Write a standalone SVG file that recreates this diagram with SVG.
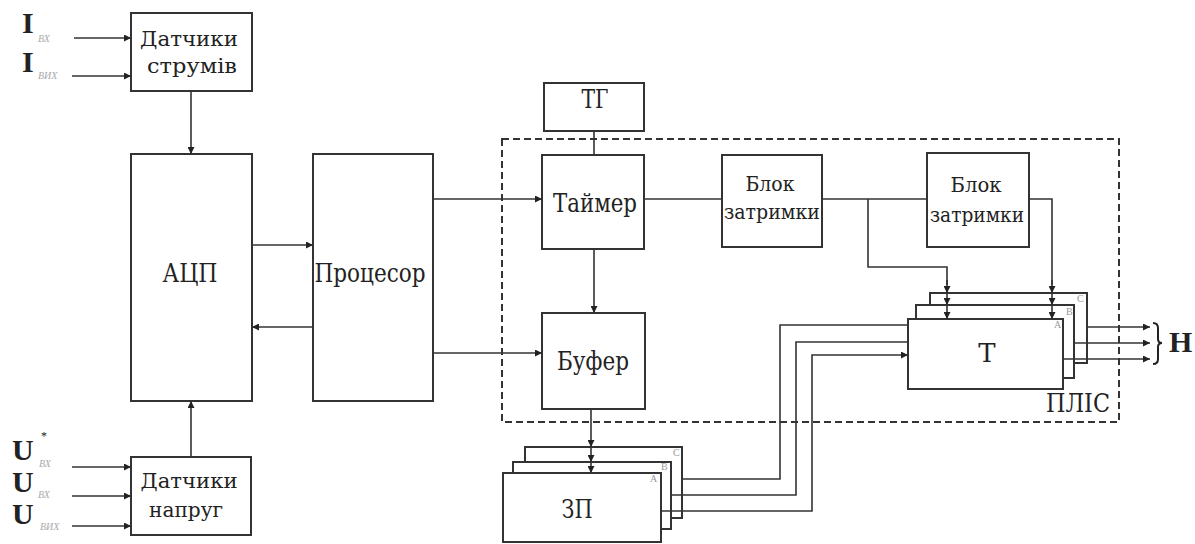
<svg xmlns="http://www.w3.org/2000/svg" width="1195" height="544" viewBox="0 0 1195 544">
<style>
.box{fill:#fff;stroke:#333;stroke-width:2}
.t{font-family:"DejaVu Serif","Liberation Serif",serif;font-size:26px;fill:#222;text-anchor:middle}
.t2{font-family:"DejaVu Serif","Liberation Serif",serif;font-size:21px;fill:#222;text-anchor:middle}
.c{stroke:#333;stroke-width:1.6;fill:none}
.ca{stroke:#333;stroke-width:1.6;fill:none;marker-end:url(#ah)}
.big{font-family:"Liberation Serif","DejaVu Serif",serif;font-weight:bold;font-size:30px;fill:#222}
.sub{font-family:"Liberation Serif","DejaVu Serif",serif;font-style:italic;font-size:10px;fill:#aaa}
.lay{font-family:"Liberation Serif","DejaVu Serif",serif;font-size:10px;fill:#999}
.dash{fill:none;stroke:#333;stroke-width:2;stroke-dasharray:7 4}
</style>
<defs>
<marker id="ah" viewBox="0 0 10 10" refX="10" refY="5" markerWidth="8" markerHeight="7" markerUnits="userSpaceOnUse" orient="auto">
<path d="M0,0 L10,5 L0,10 z" fill="#222"/>
</marker>
</defs>
<rect x="0" y="0" width="1195" height="544" fill="#fff"/>

<rect id="plis" class="dash" x="502" y="139" width="617" height="283"/>
<text class="t" x="1078" y="412" textLength="64" lengthAdjust="spacingAndGlyphs">ПЛІС</text>

<g id="labels-in">
<text class="big" x="22" y="33">I</text><text class="sub" x="38" y="42">ВХ</text>
<text class="big" x="22" y="72">I</text><text class="sub" x="38" y="79">ВИХ</text>
<text class="big" x="12" y="460" font-size="28">U</text><text x="41" y="440" font-family="Liberation Serif,serif" font-size="12" fill="#222">*</text><text class="sub" x="39" y="467">ВХ</text>
<text class="big" x="12" y="492" font-size="28">U</text><text class="sub" x="38" y="498">ВХ</text>
<text class="big" x="12" y="524" font-size="28">U</text><text class="sub" x="40" y="530">ВИХ</text>
</g>

<g id="n-dstrum"><rect class="box" x="131" y="13" width="121" height="78"/>
<text class="t2" x="189" y="46" textLength="98" lengthAdjust="spacingAndGlyphs">Датчики</text>
<text class="t2" x="192" y="73" textLength="90" lengthAdjust="spacingAndGlyphs">струмів</text></g>

<g id="n-adc"><rect class="box" x="131" y="154" width="121" height="247"/>
<text class="t" x="190" y="282" textLength="55" lengthAdjust="spacingAndGlyphs">АЦП</text></g>

<g id="n-proc"><rect class="box" x="313" y="154" width="120" height="247"/>
<text class="t" x="370" y="282" textLength="111" lengthAdjust="spacingAndGlyphs">Процесор</text></g>

<g id="n-dnapr"><rect class="box" x="131" y="457" width="120" height="78"/>
<text class="t2" x="189" y="488" textLength="97" lengthAdjust="spacingAndGlyphs">Датчики</text>
<text class="t2" x="186" y="517" textLength="74" lengthAdjust="spacingAndGlyphs">напруг</text></g>

<g id="n-tg"><rect class="box" x="544" y="83" width="100" height="48"/>
<text class="t" x="595" y="108" font-size="19" textLength="27" lengthAdjust="spacingAndGlyphs">ТГ</text></g>

<g id="n-timer"><rect class="box" x="542" y="155" width="102" height="94"/>
<text class="t" x="595" y="212" textLength="84" lengthAdjust="spacingAndGlyphs">Таймер</text></g>

<g id="n-buf"><rect class="box" x="542" y="313" width="103" height="96"/>
<text class="t" x="593" y="370" textLength="72" lengthAdjust="spacingAndGlyphs">Буфер</text></g>

<g id="n-bz1"><rect class="box" x="722" y="155" width="100" height="92"/>
<text class="t2" x="770" y="191" textLength="49" lengthAdjust="spacingAndGlyphs">Блок</text>
<text class="t2" x="772" y="219" textLength="96" lengthAdjust="spacingAndGlyphs">затримки</text></g>

<g id="n-bz2"><rect class="box" x="927" y="153" width="102" height="94"/>
<text class="t2" x="976" y="192" textLength="51" lengthAdjust="spacingAndGlyphs">Блок</text>
<text class="t2" x="977" y="222" textLength="94" lengthAdjust="spacingAndGlyphs">затримки</text></g>

<g id="n-t">
<rect class="box" x="930" y="293" width="157" height="70"/>
<rect class="box" x="916" y="305" width="158" height="73"/>
<rect class="box" x="908" y="319" width="155" height="70"/>
<text class="lay" x="1077" y="302">C</text>
<text class="lay" x="1066" y="315">В</text>
<text class="lay" x="1054" y="328">А</text>
<text class="t" x="987" y="362">Т</text>
</g>

<g id="n-zp">
<rect class="box" x="525" y="447" width="157" height="71"/>
<rect class="box" x="513" y="462" width="158" height="67"/>
<rect class="box" x="503" y="473" width="158" height="69"/>
<text class="lay" x="673" y="456">C</text>
<text class="lay" x="661" y="470">В</text>
<text class="lay" x="650" y="482">А</text>
<text class="t" x="577" y="518" textLength="31" lengthAdjust="spacingAndGlyphs">ЗП</text>
</g>

<g id="connectors">
<line class="ca" x1="74" y1="38" x2="131" y2="38"/>
<line class="ca" x1="72" y1="76" x2="131" y2="76"/>
<line class="ca" x1="72" y1="467" x2="131" y2="467"/>
<line class="ca" x1="72" y1="496" x2="131" y2="496"/>
<line class="ca" x1="72" y1="526" x2="131" y2="526"/>
<line class="ca" x1="191" y1="91" x2="191" y2="154"/>
<line class="ca" x1="191" y1="457" x2="191" y2="401"/>
<line class="ca" x1="252" y1="245" x2="313" y2="245"/>
<line class="ca" x1="313" y1="327" x2="252" y2="327"/>
<line class="ca" x1="433" y1="199" x2="542" y2="199"/>
<line class="ca" x1="433" y1="353" x2="542" y2="353"/>
<line class="c" x1="594" y1="131" x2="594" y2="155"/>
<line class="ca" x1="594" y1="249" x2="594" y2="313"/>
<line class="c" x1="644" y1="199" x2="722" y2="199"/>
<line class="c" x1="822" y1="199" x2="927" y2="199"/>
<polyline class="c" points="868,199 868,267 947,267 947,285"/>
<line class="ca" x1="947" y1="280" x2="947" y2="293"/>
<line class="ca" x1="947" y1="293" x2="947" y2="305"/>
<line class="ca" x1="947" y1="305" x2="947" y2="319"/>
<polyline class="c" points="1029,199 1052,199 1052,285"/>
<line class="ca" x1="1052" y1="280" x2="1052" y2="293"/>
<line class="ca" x1="1052" y1="293" x2="1052" y2="305"/>
<line class="ca" x1="1052" y1="305" x2="1052" y2="319"/>
<line class="ca" x1="591" y1="409" x2="591" y2="447"/>
<line class="ca" x1="591" y1="447" x2="591" y2="462"/>
<line class="ca" x1="591" y1="462" x2="591" y2="473"/>
<polyline class="c" points="682,479 780,479 780,325 908,325"/>
<polyline class="c" points="671,495 796,495 796,342 908,342"/>
<polyline class="ca" points="661,511 812,511 812,355 908,355"/>
<line class="ca" x1="1087" y1="327" x2="1150" y2="327"/>
<line class="ca" x1="1074" y1="343" x2="1150" y2="343"/>
<line class="ca" x1="1063" y1="359" x2="1150" y2="359"/>
</g>
<path d="M1153,323 Q1158,323 1158,328 L1158,339 Q1158,343 1162,343 Q1158,343 1158,347 L1158,359 Q1158,364 1153,364" fill="none" stroke="#222" stroke-width="2"/>
<text class="big" x="1169" y="352" font-size="22">Н</text>
</svg>
